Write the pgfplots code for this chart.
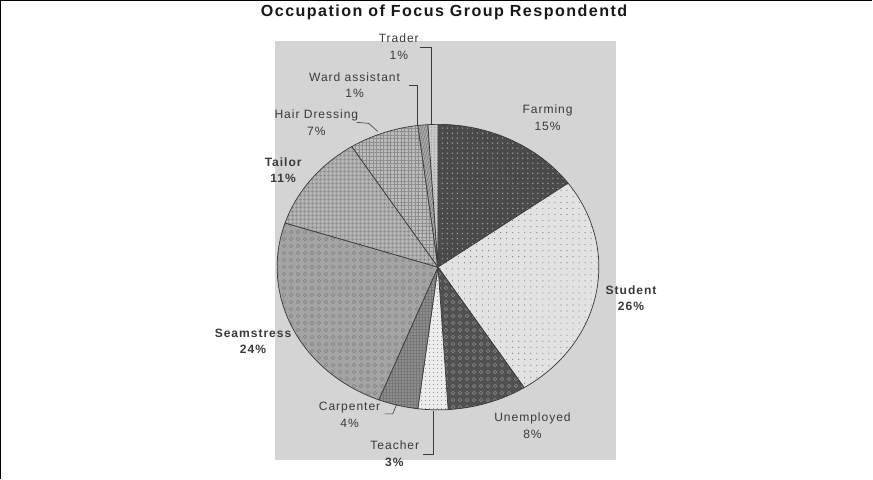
\documentclass[border=0pt]{standalone}
\usepackage{fontspec}
\setmainfont{Liberation Sans}
\newfontfamily\lbl[LetterSpace=8]{Liberation Sans}
\newfontfamily\ttl[LetterSpace=9]{Liberation Sans}
\usepackage{pgfplots}
\pgfplotsset{compat=1.18}
\usetikzlibrary{patterns.meta}
\definecolor{bgc}{HTML}{D4D4D4}
\definecolor{edgec}{HTML}{3A3A3A}
\definecolor{txtc}{HTML}{3A3A3A}
\definecolor{farmc}{HTML}{4A4A4A}
\definecolor{farmd}{HTML}{9A9A9A}
\definecolor{studc}{HTML}{E2E2E2}
\definecolor{studd}{HTML}{6E6E6E}
\definecolor{unemc}{HTML}{505050}
\definecolor{unemd}{HTML}{8C8C8C}
\definecolor{teachc}{HTML}{ECECEC}
\definecolor{teachd}{HTML}{5A5A5A}
\definecolor{carpc}{HTML}{8E8E8E}
\definecolor{carpd}{HTML}{767676}
\definecolor{seamc}{HTML}{A4A4A4}
\definecolor{seamd}{HTML}{808080}
\definecolor{tailc}{HTML}{B2B2B2}
\definecolor{taild}{HTML}{858585}
\definecolor{hairc}{HTML}{BCBCBC}
\definecolor{haird}{HTML}{8E8E8E}
\definecolor{wardc}{HTML}{A8A8A8}
\definecolor{wardd}{HTML}{707070}
\definecolor{tradc}{HTML}{C8C8C8}
\definecolor{tradd}{HTML}{808080}

\tikzdeclarepattern{
  name=rings, type=uncolored,
  bounding box={(0pt,0pt) and (7pt,7pt)},
  tile size={(7pt,7pt)},
  code={
    \draw[line width=0.45pt] (3.5pt,3.5pt) circle (2.2pt);
    \fill (3.5pt,3.5pt) circle (0.6pt);
  }
}

\tikzset{
  slice/.style={draw=edgec, line width=0.7pt},
  sfarm/.style={slice, preaction={fill=farmc}, pattern={Dots[radius=0.8pt,distance=5pt]}, pattern color=farmd},
  sstud/.style={slice, preaction={fill=studc}, pattern={Dots[radius=0.55pt,distance=6pt]}, pattern color=studd},
  sunem/.style={slice, preaction={fill=unemc}, pattern=rings, pattern color=unemd},
  steach/.style={slice, preaction={fill=teachc}, pattern={Dots[radius=0.55pt,distance=4pt]}, pattern color=teachd},
  scarp/.style={slice, preaction={fill=carpc}, pattern={Hatch[distance=3pt,line width=0.4pt]}, pattern color=carpd},
  sseam/.style={slice, preaction={fill=seamc}, pattern=rings, pattern color=seamd},
  stail/.style={slice, preaction={fill=tailc}, pattern={Hatch[distance=4pt,line width=0.5pt]}, pattern color=taild},
  shair/.style={slice, preaction={fill=hairc}, pattern={Hatch[distance=3.5pt,line width=0.45pt]}, pattern color=haird},
  sward/.style={slice, preaction={fill=wardc}, pattern={Lines[angle=70,distance=2.5pt,line width=0.5pt]}, pattern color=wardd},
  strad/.style={slice, preaction={fill=tradc}, pattern={Dots[radius=0.5pt,distance=3pt]}, pattern color=tradd},
  lab/.style={font=\lbl\fontsize{12}{16.5}\selectfont, text=txtc, align=center, inner sep=0pt},
  labb/.style={lab, font=\lbl\bfseries\fontsize{12}{16.5}\selectfont},
  lead/.style={draw=edgec, line width=0.6pt},
}

\begin{document}
\begin{tikzpicture}
\begin{axis}[
  width=873pt, height=481pt, scale only axis,
  xmin=0, xmax=873, ymin=0, ymax=481,
  hide axis, clip=false,
]
% plot area and frame
\fill[bgc] (axis cs:279,19) rectangle (axis cs:618,436);
\draw[line width=1.4pt] (axis cs:6,0) -- (axis cs:6,476) -- (axis cs:873,476);

% slices: percentage / style, clockwise from 12 o'clock
\def\cum{0}
\foreach \p/\s in {15/sfarm,26/sstud,8/sunem,3/steach,4/scarp,24/sseam,11/stail,7/shair,1/sward,1/strad}{
  \pgfmathsetmacro\aa{90-3.6*\cum}
  \pgfmathsetmacro\bb{90-3.6*(\cum+\p)}
  \pgfmathsetmacro\xs{441+160*cos(\aa)}
  \pgfmathsetmacro\ys{211+142*sin(\aa)}
  \edef\temp{\noexpand\path[\s] (axis cs:441,211) -- (axis cs:\xs,\ys)
    arc[start angle=\aa, end angle=\bb, x radius=160pt, y radius=142pt] -- cycle;}
  \temp
  \pgfmathsetmacro\nc{\cum+\p}\xdef\cum{\nc}
}

% leader lines
\draw[lead] (axis cs:423,430) -- (axis cs:434,430) -- (axis cs:434,353);
\draw[lead] (axis cs:412,392) -- (axis cs:420,392) -- (axis cs:420,351);
\draw[lead] (axis cs:360,355) -- (axis cs:372,354) -- (axis cs:381,346);
\draw[lead] (axis cs:388,65) -- (axis cs:396,65) -- (axis cs:400,75);
\draw[lead] (axis cs:426,25) -- (axis cs:436,25) -- (axis cs:436,68);

% labels
\node[lab] at (axis cs:402,430.5) {Trader\\1\%};
\node[lab] at (axis cs:358,392) {Ward assistant\\1\%};
\node[lab] at (axis cs:320,354.5) {Hair Dressing\\7\%};
\node[labb] at (axis cs:287,307.5) {Tailor\\11\%};
\node[lab] at (axis cs:550,359.5) {Farming\\15\%};
\node[labb] at (axis cs:633,180) {Student\\26\%};
\node[labb] at (axis cs:257,137) {Seamstress\\24\%};
\node[lab] at (axis cs:353,64) {Carpenter\\4\%};
\node[lab] at (axis cs:398,25.5) {Teacher\\\textbf{3\%}};
\node[lab] at (axis cs:535,53) {Unemployed\\8\%};

% title
\node[font=\ttl\bfseries\fontsize{16}{18}\selectfont, text=black!90, inner sep=0pt]
  at (axis cs:447,464) {Occupation of Focus Group Respondentd};
\end{axis}
\end{tikzpicture}
\end{document}
